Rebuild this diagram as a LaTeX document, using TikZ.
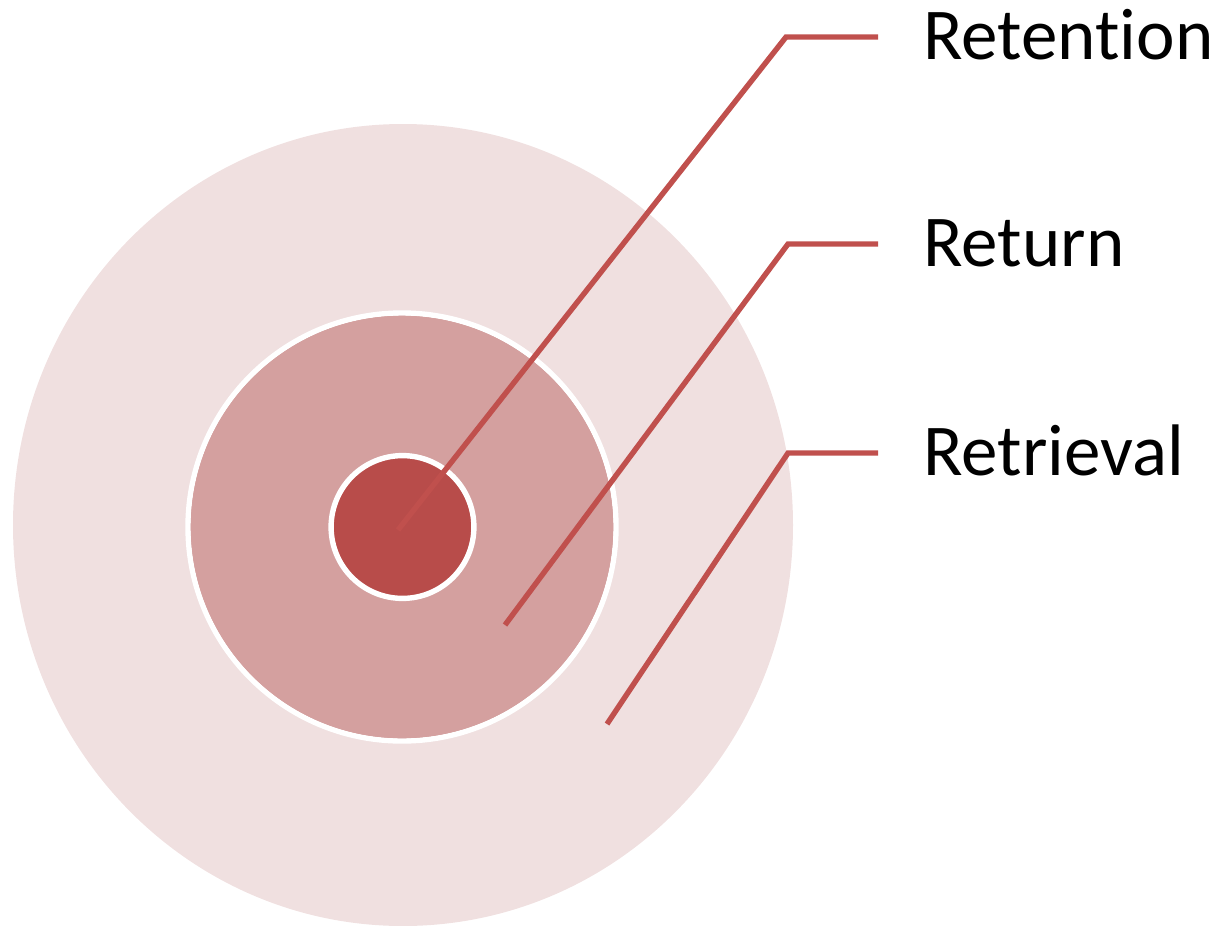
\documentclass[tikz,border=0pt]{standalone}
\usepackage{fontspec}
\setmainfont{Carlito}
\usetikzlibrary{positioning}
\definecolor{outerpink}{HTML}{F0E0E0}
\definecolor{midpink}{HTML}{D4A09F}
\definecolor{corered}{HTML}{B84C4A}
\definecolor{leadred}{HTML}{C0504D}

\begin{document}
\begin{tikzpicture}[x=0.5pt, y=-0.5pt,
  lead/.style={draw=leadred, line width=2.7pt},
  ring/.style={draw=white, line width=2.7pt},
  lab/.style={anchor=west, inner xsep=22.5pt, inner ysep=0pt,
    text height=22pt, text depth=0pt, font=\fontsize{36.5}{44}\selectfont}]
\useasboundingbox (0,0) rectangle (1216,926);
% the three rings
\fill[outerpink] (403,525) ellipse [x radius=195pt, y radius=200.5pt];
\filldraw[midpink, ring] (402,527) circle [radius=107pt];
\fill[midpink] (402,527) circle [radius=105.6pt];
\filldraw[ring, fill=corered] (402.5,527) circle [radius=35.7pt];
% labels
\node[lab] (ret) at (878,37) {Retent\kern0pt ion};
\node[lab] (rtn) at (878,244) {Return};
\node[lab] (rtv) at (878,453) {Retrieval};
% leader lines
\coordinate (ret0) at (398,530);
\coordinate (rtn0) at (505,625);
\coordinate (rtv0) at (607,724);
\draw[lead] (ret0) -- (786,37) -- (ret.west);
\draw[lead] (rtn0) -- (788,244) -- (rtn.west);
\draw[lead] (rtv0) -- (788,453) -- (rtv.west);
\end{tikzpicture}
\end{document}
